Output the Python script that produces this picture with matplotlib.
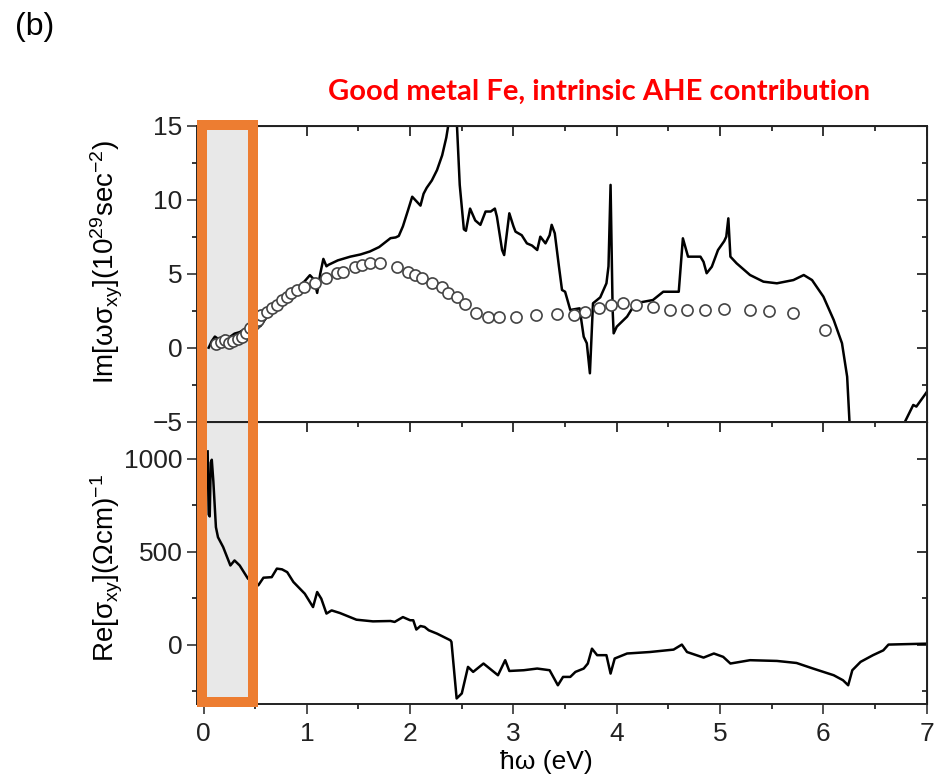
import matplotlib.pyplot as plt
import matplotlib
import numpy as np
from matplotlib.patches import Rectangle
from matplotlib.ticker import MultipleLocator

matplotlib.rcParams['font.family'] = ['Liberation Sans', 'DejaVu Sans']
matplotlib.rcParams['mathtext.fontset'] = 'custom'
matplotlib.rcParams['mathtext.rm'] = 'Liberation Sans'
matplotlib.rcParams['mathtext.default'] = 'regular'

# 위 패널: 이론 곡선 Im[w sigma_xy]
calc_x = [0.05, 0.08, 0.11, 0.15, 0.20, 0.25, 0.30, 0.35, 0.40, 0.45, 0.50, 0.55, 0.60, 0.68,
          0.76, 0.84, 0.92, 0.98, 1.03, 1.07, 1.10, 1.13, 1.16, 1.19, 1.21, 1.30, 1.42, 1.52,
          1.61, 1.70, 1.81, 1.86, 1.89, 1.93, 1.98, 2.02, 2.06, 2.10, 2.13, 2.16, 2.21, 2.26,
          2.31, 2.35, 2.38, 2.42, 2.45, 2.48, 2.52, 2.54, 2.58, 2.63, 2.68, 2.73, 2.78, 2.82,
          2.84, 2.89, 2.91, 2.96, 3.00, 3.02, 3.08, 3.13, 3.18, 3.23, 3.26, 3.31, 3.35, 3.37,
          3.40, 3.44, 3.47, 3.50, 3.55, 3.64, 3.66, 3.68, 3.71, 3.74, 3.77, 3.84, 3.90, 3.92,
          3.94, 3.96, 3.97, 4.00, 4.10, 4.18, 4.35, 4.45, 4.60, 4.64, 4.69, 4.81, 4.84, 4.87,
          4.92, 4.98, 5.04, 5.06, 5.08, 5.10, 5.16, 5.29, 5.42, 5.55, 5.71, 5.81, 5.89, 6.00,
          6.10, 6.18, 6.23, 6.26, 6.50, 6.75, 6.79, 6.87, 6.90, 6.98, 7.00]
calc_y = [0.0, 0.45, 0.75, 0.55, 0.8, 0.7, 0.95, 1.05, 1.25, 1.3, 1.4, 1.45, 1.95, 2.55,
          3.0, 3.55, 4.1, 4.5, 4.9, 4.6, 3.7, 5.0, 6.0, 5.5, 5.6, 5.9, 6.15, 6.3,
          6.5, 6.8, 7.4, 7.45, 7.55, 8.2, 9.3, 10.2, 9.9, 9.6, 10.4, 10.8, 11.3, 12.0,
          13.0, 14.2, 15.5, 17.0, 15.5, 11.0, 8.0, 7.9, 9.4, 8.6, 8.3, 9.2, 9.2, 9.4,
          8.85, 6.6, 6.26, 9.08, 8.2, 7.84, 7.6, 7.05, 6.9, 6.6, 7.5, 7.05, 7.6, 8.3,
          7.73, 5.5, 3.9, 3.78, 2.55, 2.66, 1.7, 0.74, 0.3, -1.73, 3.0, 3.4, 4.35, 5.5,
          11.0, 2.55, 0.97, 1.42, 2.1, 3.0, 3.22, 3.78, 3.78, 7.39, 6.15, 6.15, 5.8, 5.03,
          5.47, 6.6, 7.2, 7.5, 8.74, 6.15, 5.7, 4.91, 4.46, 4.35, 4.57, 4.91, 4.57, 3.45,
          1.87, 0.3, -1.96, -6.0, np.nan, -6.0, -5.0, -3.87, -3.98, -3.2, -3.0]

# 위 패널: 실험값 (원)
exp_x = [0.12, 0.17, 0.21, 0.25, 0.29, 0.33, 0.37, 0.41, 0.45, 0.49, 0.53, 0.56, 0.61, 0.66,
         0.71, 0.76, 0.81, 0.85, 0.90, 0.97, 1.08, 1.19, 1.29, 1.35, 1.47, 1.53, 1.61, 1.71,
         1.87, 1.98, 2.05, 2.11, 2.21, 2.31, 2.37, 2.45, 2.53, 2.64, 2.75, 2.86, 3.02, 3.22,
         3.42, 3.59, 3.69, 3.83, 3.94, 4.06, 4.19, 4.35, 4.52, 4.68, 4.85, 5.04, 5.29, 5.47,
         5.71, 6.02]
exp_y = [0.25, 0.4, 0.5, 0.3, 0.45, 0.6, 0.75, 1.0, 1.3, 1.6, 1.9, 2.2, 2.43, 2.66,
         2.89, 3.22, 3.45, 3.72, 3.9, 4.12, 4.35, 4.69, 5.03, 5.14, 5.47, 5.59, 5.74, 5.74,
         5.47, 5.14, 4.91, 4.69, 4.39, 4.12, 3.72, 3.45, 2.98, 2.32, 2.05, 2.1, 2.1, 2.21,
         2.28, 2.21, 2.43, 2.66, 2.89, 3.04, 2.89, 2.77, 2.55, 2.52, 2.55, 2.59, 2.55, 2.5,
         2.32, 1.2]

# 아래 패널: Re[sigma_xy]
re_x = [0.04, 0.05, 0.06, 0.07, 0.08, 0.095, 0.12, 0.14, 0.19, 0.26, 0.30, 0.35, 0.43, 0.53,
        0.58, 0.66, 0.71, 0.76, 0.81, 0.87, 0.98, 1.06, 1.10, 1.14, 1.19, 1.24, 1.32, 1.48,
        1.64, 1.81, 1.85, 1.93, 2.00, 2.03, 2.06, 2.10, 2.14, 2.18, 2.26, 2.39, 2.40, 2.45,
        2.50, 2.56, 2.61, 2.71, 2.77, 2.85, 2.92, 2.96, 3.10, 3.23, 3.35, 3.43, 3.48, 3.55,
        3.60, 3.68, 3.72, 3.76, 3.81, 3.90, 3.94, 3.98, 4.10, 4.32, 4.55, 4.63, 4.68, 4.84,
        4.94, 5.03, 5.10, 5.29, 5.55, 5.74, 5.90, 6.10, 6.19, 6.24, 6.28, 6.36, 6.48, 6.58,
        6.63, 6.77, 7.00]
re_y = [1040, 700, 690, 980, 995, 880, 632, 578, 525, 426, 453, 426, 355, 319,
        360, 363, 409, 405, 390, 337, 274, 202, 283, 247, 167, 184, 170, 134,
        125, 127, 122, 148, 131, 131, 81, 100, 95, 77, 59, 23, 14, -290,
        -263, -120, -147, -102, -129, -165, -84, -142, -138, -129, -138, -219, -174, -174,
        -147, -129, -102, -22, -57, -57, -156, -75, -48, -40, -27, 0, -40, -70,
        -48, -66, -102, -84, -88, -99, -129, -165, -192, -219, -138, -93, -57, -31,
        0, 2, 5]

fig = plt.figure(figsize=(9.49, 7.74), dpi=100)
ax1 = fig.add_axes([0.2076, 0.4552, 0.7689, 0.3824])
ax2 = fig.add_axes([0.2076, 0.0904, 0.7689, 0.3648])

ax1.plot(calc_x, calc_y, color='black', lw=1.8)
ax1.plot(exp_x, exp_y, 'o', ms=8, mfc='white', mec='#444444', mew=1.2)
ax2.plot(re_x, re_y, color='black', lw=1.8)

ax1.set_ylim(-5, 15)
ax2.set_ylim(-320, 1200)
ax1.yaxis.set_major_locator(MultipleLocator(5))
ax1.yaxis.set_minor_locator(MultipleLocator(2.5))
ax2.yaxis.set_major_locator(MultipleLocator(500))
ax2.yaxis.set_minor_locator(MultipleLocator(250))

for ax in [ax1, ax2]:
    ax.set_xlim(-0.063, 7.0)
    ax.xaxis.set_major_locator(MultipleLocator(1))
    ax.xaxis.set_minor_locator(MultipleLocator(0.5))
    # 회색 영역
    ax.axvspan(-0.1, 0.48, color='#e8e8e8', zorder=0, lw=0)
    for s in ax.spines.values():
        s.set_linewidth(1.4)
        s.set_color('#222222')
    ax.tick_params(which='major', direction='out', length=7, width=1.1, labelsize=19, colors='#222222')
    ax.tick_params(axis='x', which='major', pad=6)
    ax.tick_params(which='minor', direction='out', length=3.5, width=1.1)
    # 위/오른쪽 눈금은 안쪽으로
    top = ax.secondary_xaxis('top')
    top.xaxis.set_major_locator(MultipleLocator(1))
    top.xaxis.set_minor_locator(MultipleLocator(0.5))
    top.tick_params(which='major', direction='in', length=7, width=1.1, labeltop=False)
    top.tick_params(which='minor', direction='in', length=3.5, width=1.1)
    right = ax.secondary_yaxis('right')
    right.yaxis.set_major_locator(ax.yaxis.get_major_locator())
    right.yaxis.set_minor_locator(ax.yaxis.get_minor_locator())
    right.tick_params(which='major', direction='in', length=7, width=1.1, labelright=False)
    right.tick_params(which='minor', direction='in', length=3.5, width=1.1)

ax1.tick_params(labelbottom=False)

# 축 이름
fig.text(107/949, 1-262/774, r'Im[ωσ$_{xy}$](10$^{29}$sec$^{-2}$)', rotation=90,
         ha='center', va='center', fontsize=20)
fig.text(107/949, 1-568/774, r'Re[σ$_{xy}$](Ωcm)$^{-1}$', rotation=90,
         ha='center', va='center', fontsize=20)
fig.text(546/949, 0, 'ħω (eV)', ha='center', va='bottom', fontsize=19)

fig.text(15/949, 1-27/774, '(b)', ha='left', va='center', fontsize=23)
fig.text(328/949, 1-92/774, 'Good metal Fe, intrinsic AHE contribution', color='red',
         fontweight='bold', family='Lato', ha='left', va='center', fontsize=21)

# 주황색 박스 (두 패널에 걸침)
rect = Rectangle((202/949, 1-702/774), 51/949, 577/774, transform=fig.transFigure,
                 fill=False, edgecolor='#ED7D31', lw=7.2, zorder=10)
fig.patches.append(rect)

plt.savefig('out.png', dpi=100)
